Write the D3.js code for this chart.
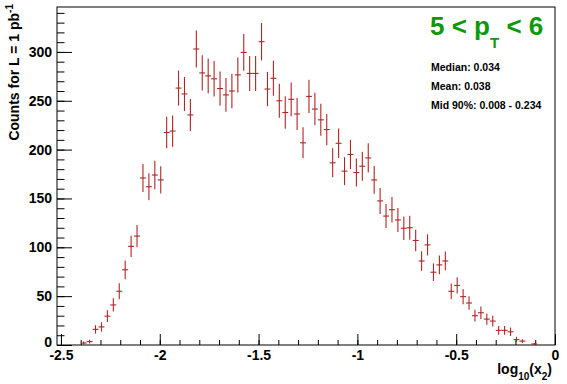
<!DOCTYPE html>
<meta charset="utf-8">
<head>
  <title>log10(x2) distribution, 5 &lt; pT &lt; 6</title>
</head>
<style>
body { margin: 0; background: white; }
svg { display: block; font-family: "Liberation Sans", Arial, Helvetica, sans-serif; font-weight: bold; }
.axis text { font-size: 14px; font-weight: bold; fill: black; }
.axis line { stroke: black; }
</style>
<body>
<div id="chart"></div>
<script src="https://cdnjs.cloudflare.com/ajax/libs/d3/7.8.5/d3.min.js"></script>
<script>
// histogram binning: 84 bins of 0.03 from -2.52 to 0
var xRange = [-2.52, 0]
var binWidth = 0.03
var firstBin = 4   // bins 0-3 are empty

// counts per bin, starting at firstBin
var counts = [2, 3.5, 16, 18.5, 29.5, 41, 55, 77, 101, 111.5,
  171, 162, 174, 169, 217.5, 219, 263, 257, 235.5, 303,
  278.5, 275.5, 272.5, 262.5, 256, 260, 276.5, 299.5, 278, 278,
  310.5, 262, 273, 250, 238, 251.5, 236.5, 207, 254.5, 241.5,
  230.5, 220.5, 186.5, 206.5, 178, 195, 176.5, 183, 191.5, 169,
  147.5, 132, 138.5, 128, 119.5, 120, 107, 86, 102.5, 74.5,
  82, 86, 55, 61, 49.5, 43, 30, 33, 26.5, 24.5,
  15, 15, 13.5, 5.5, 4, 0, 1]

// error bar half lengths, same order
var errors = [1.5, 2, 4.3, 4.8, 6, 6.8, 8.2, 9.6, 10.9, 11.4,
  14.3, 13.7, 14.5, 14, 16.2, 16, 17.9, 17.4, 16.4, 19,
  18, 17.9, 18.1, 17.6, 17.2, 17.6, 17.9, 18.8, 17.9, 17.9,
  19.1, 17.6, 17.9, 17.4, 16.6, 17.3, 16.4, 15.9, 17.1, 16.6,
  16.4, 16, 14.9, 15.2, 14.3, 15, 14.3, 14.9, 14.9, 14.2,
  13.3, 12.3, 13, 12.3, 12, 12.3, 11.1, 9.9, 10.8, 9,
  9.6, 9.6, 8, 8.4, 7.7, 7, 6, 6.3, 5.8, 5.5,
  4.4, 4.4, 4.3, 2.9, 2, 0, 1]

var xMajor = [-2.5, -2, -1.5, -1, -0.5, 0]
var yMajor = [0, 50, 100, 150, 200, 250, 300]
var yMax = 346

var stats = ["Median: 0.034", "Mean: 0.038", "Mid 90%: 0.008 - 0.234"]

var width = 567, height = 384
var frameL = 57, frameR = 555, frameT = 7, frameB = 345

var svg = d3.select("#chart").append("svg")
  .attr("width", width)
  .attr("height", height)

var x = d3.scaleLinear().domain(xRange).range([frameL, frameR])
var y = d3.scaleLinear().domain([0, yMax]).range([frameB, frameT])

var data = counts.map(function(c, k) {
  var lo = xRange[0] + (firstBin + k) * binWidth
  return { lo: lo, hi: lo + binWidth, c: c, e: errors[k] }
}).filter(function(d) { return d.c > 0 })

// axes, ticks pointing into the frame
var xMinor = d3.range(-2.5, 0.001, 0.1).map(function(v) { return +v.toFixed(2) })
svg.append("g")
  .attr("class", "axis")
  .attr("transform", "translate(0," + frameB + ")")
  .call(d3.axisBottom(x).tickValues(xMinor).tickSize(-5).tickFormat(""))
  .call(function(g) { g.select(".domain").remove() })
svg.append("g")
  .attr("class", "axis")
  .attr("transform", "translate(0," + frameB + ")")
  .call(d3.axisBottom(x).tickValues(xMajor).tickSizeInner(-11).tickSizeOuter(0).tickPadding(5)
    .tickFormat(function(d) { return d === 0 ? "0" : String(d) }))
  .call(function(g) { g.select(".domain").remove() })

var yMinor = d3.range(0, 341, 10)
svg.append("g")
  .attr("class", "axis")
  .attr("transform", "translate(" + frameL + ",0)")
  .call(d3.axisLeft(y).tickValues(yMinor).tickSize(-7.5).tickFormat(""))
  .call(function(g) { g.select(".domain").remove() })
svg.append("g")
  .attr("class", "axis")
  .attr("transform", "translate(" + frameL + ",0)")
  .call(d3.axisLeft(y).tickValues(yMajor).tickSizeInner(-15).tickSizeOuter(0).tickPadding(5))
  .call(function(g) { g.select(".domain").remove() })
  .call(function(g) { g.selectAll("text").filter(function(d) { return d === 0 }).attr("dy", "0.1em") })

// frame
svg.append("rect")
  .attr("x", frameL).attr("y", frameT)
  .attr("width", frameR - frameL).attr("height", frameB - frameT)
  .attr("fill", "none").attr("stroke", "black").attr("stroke-width", 1)

// error crosses
var marks = svg.append("g").attr("stroke", "#b02525").attr("stroke-width", 1.1)
marks.selectAll(".ev").data(data).enter().append("line")
  .attr("x1", function(d) { return x((d.lo + d.hi) / 2) })
  .attr("x2", function(d) { return x((d.lo + d.hi) / 2) })
  .attr("y1", function(d) { return y(d.c + d.e) })
  .attr("y2", function(d) { return y(Math.max(0, d.c - d.e)) })
marks.selectAll(".eh").data(data).enter().append("line")
  .attr("x1", function(d) { return x(d.lo) })
  .attr("x2", function(d) { return x(d.hi) })
  .attr("y1", function(d) { return y(d.c) })
  .attr("y2", function(d) { return y(d.c) })

// axis titles
var xt = svg.append("text")
  .attr("x", 552).attr("y", 374)
  .attr("text-anchor", "end")
  .attr("font-size", 14)
xt.append("tspan").text("log")
xt.append("tspan").attr("font-size", 10).attr("dy", 6).text("10")
xt.append("tspan").attr("dy", -6).text("(x")
xt.append("tspan").attr("font-size", 10).attr("dy", 6).text("2")
xt.append("tspan").attr("dy", -6).text(")")

var yt = svg.append("text")
  .attr("transform", "translate(19,4) rotate(-90)")
  .attr("text-anchor", "end")
  .attr("font-size", 14)
yt.append("tspan").text("Counts for L = 1 pb")
yt.append("tspan").attr("font-size", 10).attr("dy", -6).text("-1")

// pT range label
var title = svg.append("text")
  .attr("x", 430).attr("y", 35)
  .attr("fill", "#0c990c")
  .attr("font-size", 26)
title.append("tspan").text("5 < p")
title.append("tspan").attr("font-size", 15).attr("dy", 13).text("T")
title.append("tspan").attr("dy", -13).text(" < 6")

svg.selectAll(".stat").data(stats).enter().append("text")
  .attr("x", 431)
  .attr("y", function(d, i) { return 71 + i * 19 })
  .attr("font-size", 10.5)
  .text(function(d) { return d })
</script>
</body>
</html>
